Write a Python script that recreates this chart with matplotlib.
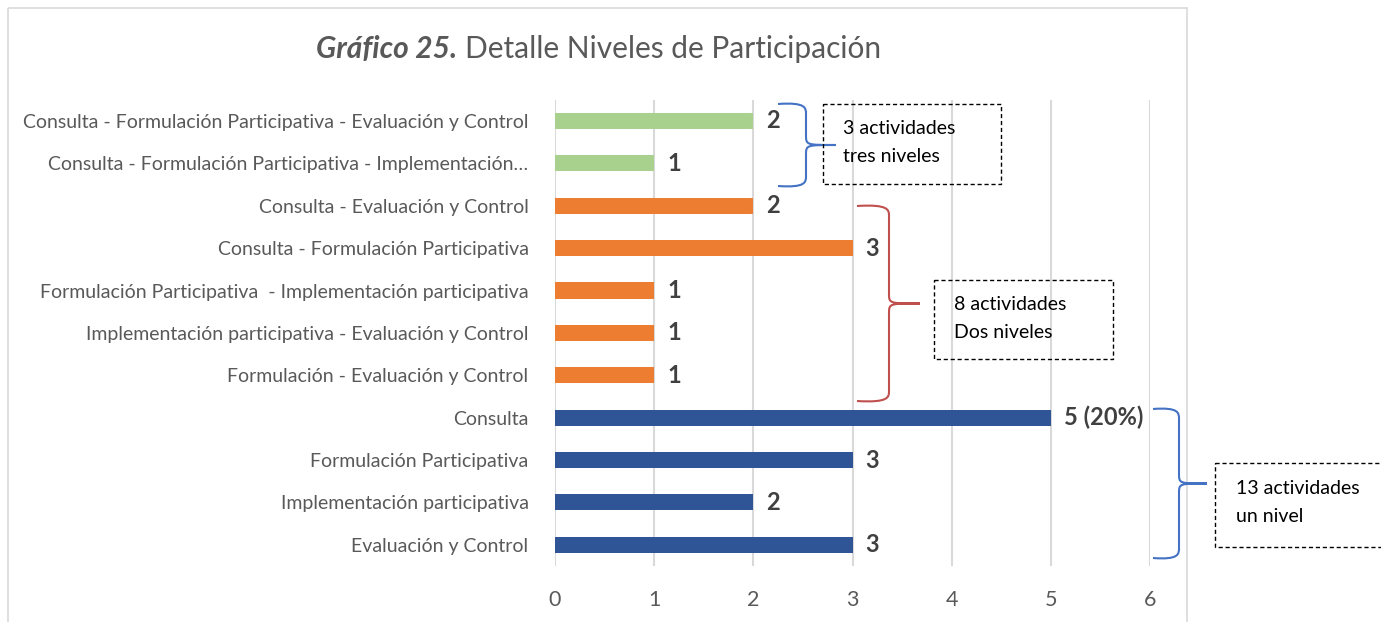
import matplotlib.pyplot as plt
from matplotlib.path import Path
from matplotlib.patches import PathPatch, Rectangle

# ============== data ==============
categories = [
    'Consulta - Formulación Participativa - Evaluación y Control',
    'Consulta - Formulación Participativa - Implementación…',
    'Consulta - Evaluación y Control',
    'Consulta - Formulación Participativa',
    'Formulación Participativa  - Implementación participativa',
    'Implementación participativa - Evaluación y Control',
    'Formulación - Evaluación y Control',
    'Consulta',
    'Formulación Participativa',
    'Implementación participativa',
    'Evaluación y Control',
]
values = [2, 1, 2, 3, 1, 1, 1, 5, 3, 2, 3]
valueLabels = ['2', '1', '2', '3', '1', '1', '1', '5 (20%)', '3', '2', '3']
groups = ['tres', 'tres', 'dos', 'dos', 'dos', 'dos', 'dos', 'uno', 'uno', 'uno', 'uno']
groupColors = {'tres': '#A9D18E', 'dos': '#ED7D31', 'uno': '#2F5597'}
xTicks = [0, 1, 2, 3, 4, 5, 6]
# ==================================

plt.rcParams['font.family'] = ['Lato', 'DejaVu Sans']

W, H = 1381, 622
fig = plt.figure(figsize=(W / 100, H / 100), dpi=100)
ax = fig.add_axes([555 / W, 1 - 566 / H, (1150 - 555) / W, (566 - 99.8) / H])

ypos = list(range(len(categories)))[::-1]
ax.barh(ypos, values, height=0.38, color=[groupColors[g] for g in groups], zorder=3)
for y, v, lab in zip(ypos, values, valueLabels):
    ax.text(v + 0.13, y, lab, va='center', ha='left', fontsize=17,
            fontweight='bold', color='#404040', zorder=4)

ax.set_xlim(0, 6)
ax.set_ylim(-0.5, len(categories) - 0.5)
ax.set_xticks(xTicks)
ax.set_yticks(ypos)
ax.set_yticklabels(categories, fontsize=14, color='#595959')
ax.tick_params(axis='y', length=0, pad=19)
ax.tick_params(axis='x', length=0, pad=17, labelsize=15.5, labelcolor='#595959')
ax.grid(axis='x', color='#D9D9D9', linewidth=1.5, zorder=0)
for s in ax.spines.values():
    s.set_visible(False)
ax.set_facecolor('none')

# overlay in pixel coordinates for frame, title, braces and boxes
ov = fig.add_axes([0, 0, 1, 1], zorder=-1)
ov.set_xlim(0, W)
ov.set_ylim(H, 0)
ov.axis('off')
ov.add_patch(Rectangle((8, 8), 1179, 700, fill=False, edgecolor='#D9D9D9', linewidth=1.2))

top = fig.add_axes([0, 0, 1, 1], zorder=5)
top.set_xlim(0, W)
top.set_ylim(H, 0)
top.axis('off')
top.patch.set_visible(False)

t1 = top.text(316, 49, 'Gráfico 25.', fontsize=21.5, fontweight='bold', fontstyle='italic',
              color='#595959', va='center', ha='left')
fig.canvas.draw()
bb = t1.get_window_extent()
top.text(bb.x1 + 8, 49, 'Detalle Niveles de Participación', fontsize=21.5, color='#595959',
         va='center', ha='left')


def brace(x0, y0, y1, xv, xt, color):
    ym = (y0 + y1) / 2
    r = 10
    verts = [(x0, y0), (xv, y0 - 2), (xv, y0 + 4), (xv, y0 + r),
             (xv, ym - r), (xv, ym), (xv, ym), (xt, ym),
             (xv, ym), (xv, ym), (xv, ym + r),
             (xv, y1 - r), (xv, y1 - 4), (xv, y1 + 2), (x0, y1)]
    codes = [Path.MOVETO, Path.CURVE4, Path.CURVE4, Path.CURVE4,
             Path.LINETO, Path.CURVE4, Path.CURVE4, Path.CURVE4,
             Path.CURVE4, Path.CURVE4, Path.CURVE4,
             Path.LINETO, Path.CURVE4, Path.CURVE4, Path.CURVE4]
    top.add_patch(PathPatch(Path(verts, codes), fill=False, edgecolor=color, linewidth=1.5))


def box(x0, y0, x1, y1, lines, tx, ty):
    top.add_patch(Rectangle((x0, y0), x1 - x0, y1 - y0, fill=False, edgecolor='black',
                            linewidth=1, linestyle=(0, (3, 2)), clip_on=False))
    for i, ln in enumerate(lines):
        top.text(tx, ty + i * 28, ln, fontsize=14, color='black', va='center', ha='left')


brace(778, 104, 186, 806, 836, '#4472C4')
brace(857, 206, 401, 889, 920, '#C0504D')
brace(1153, 409, 558, 1179, 1207, '#4472C4')

box(823, 104, 1001, 184, ['3 actividades', 'tres niveles'], 843, 129)
box(934, 280, 1113, 359, ['8 actividades', 'Dos niveles'], 954, 305)
box(1215, 463, 1385, 547, ['13 actividades', 'un nivel'], 1236, 488)

fig.savefig('out.png', dpi=100)
